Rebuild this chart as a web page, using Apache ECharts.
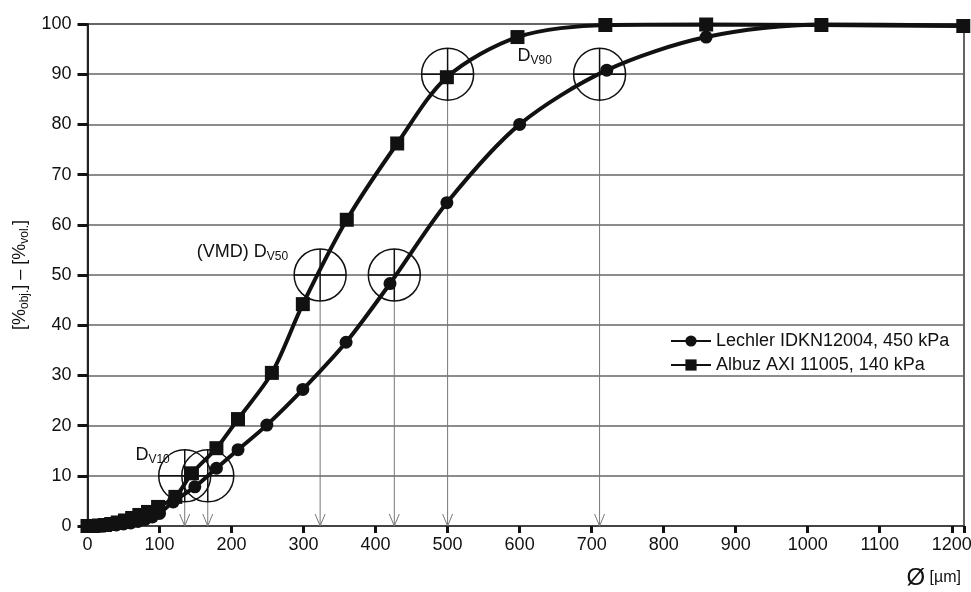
<!DOCTYPE html>
<html>
<head>
<meta charset="utf-8">
<script src="https://cdn.jsdelivr.net/npm/echarts@6/dist/echarts.min.js"></script>
<style>
  html, body { margin: 0; padding: 0; background: #fff; }
  #chart { width: 971px; height: 592px; }
</style>
</head>
<body>
<div id="chart"></div>
<script>
// drop size classes (µm) and cumulative volume (%)
const lechlerX = [0, 10, 20, 30, 40, 50, 60, 70, 80, 90, 100, 119, 149, 179, 209, 249, 299, 359, 420, 499, 600, 721, 859, 1019, 1216];
const lechlerY = [0, 0, 0, 0.1, 0.2, 0.4, 0.6, 0.9, 1.3, 1.8, 2.5, 4.8, 7.8, 11.5, 15.2, 20.1, 27.2, 36.6, 48.3, 64.4, 80.0, 90.8, 97.4, 99.9, 99.7];
const albuzX = [0, 8, 16, 24, 33, 42, 52, 62, 72, 84, 98, 122, 145, 179, 209, 256, 299, 360, 430, 499, 597, 719, 859, 1019, 1216];
const albuzY = [0, 0, 0.1, 0.2, 0.4, 0.7, 1.1, 1.6, 2.2, 2.8, 3.8, 5.8, 10.5, 15.5, 21.3, 30.5, 44.2, 61.0, 76.2, 89.4, 97.4, 99.8, 99.9, 99.8, 99.6];

// characteristic diameters Dv10 / Dv50 / Dv90
const dvLevels = [10, 50, 90];
const albuzDv = [135, 323, 500];
const lechlerDv = [167, 426, 711];
const dvLabels = ['{d|D}{s|V10}', '{d|(VMD) D}{s|V50}', '{d|D}{s|V90}'];

const xTicks = [0, 100, 200, 300, 400, 500, 600, 700, 800, 900, 1000, 1100, 1200];

const font = 'Liberation Sans, Arial, sans-serif';
const ink = '#111';

const chart = echarts.init(document.getElementById('chart'));

const zip = (xs, ys) => xs.map((x, i) => [x, ys[i]]);

const marks = [];
dvLevels.forEach((lvl, i) => {
  marks.push([albuzDv[i], lvl, i]);
  marks.push([lechlerDv[i], lvl, -1]);
});

// label offsets relative to the Albuz circle centre, in px
const labelOffset = [[-15, -21, 'right'], [-32, -23, 'right'], [70, -18, 'left']];

const renderMark = (params, api) => {
  const x = api.value(0);
  const y = api.value(1);
  const idx = api.value(2);
  const c = api.coord([x, y]);
  const base = api.coord([x, 0]);
  const r = 26;
  const children = [
    {
      type: 'line',
      shape: { x1: c[0], y1: c[1] + r, x2: c[0], y2: base[1] },
      style: { stroke: '#777', lineWidth: 1 }
    },
    {
      type: 'polyline',
      shape: { points: [[c[0] - 5, base[1] - 12], [c[0], base[1]], [c[0] + 5, base[1] - 12]] },
      style: { stroke: '#777', lineWidth: 1, fill: null }
    },
    {
      type: 'circle',
      shape: { cx: c[0], cy: c[1], r: r },
      style: { stroke: ink, lineWidth: 1.5, fill: null }
    },
    {
      type: 'line',
      shape: { x1: c[0] - r, y1: c[1], x2: c[0] + r, y2: c[1] },
      style: { stroke: ink, lineWidth: 1.5 }
    },
    {
      type: 'line',
      shape: { x1: c[0], y1: c[1] - r, x2: c[0], y2: c[1] + r },
      style: { stroke: ink, lineWidth: 1.5 }
    }
  ];
  if (idx >= 0) {
    const off = labelOffset[idx];
    children.push({
      type: 'text',
      x: c[0] + off[0],
      y: c[1] + off[1],
      style: {
        text: dvLabels[idx],
        align: off[2],
        verticalAlign: 'middle',
        fill: ink,
        rich: {
          d: { fontSize: 18, fontFamily: font, fill: ink },
          s: { fontSize: 12, fontFamily: font, fill: ink, verticalAlign: 'bottom', padding: [9, 0, 0, 0] }
        }
      }
    });
  }
  return { type: 'group', children: children };
};

const option = {
  animation: false,
  textStyle: { fontFamily: font },
  grid: {
    left: 87.5,
    right: 7,
    top: 24,
    bottom: 66,
    outerBoundsMode: 'none',
    show: true,
    borderColor: '#333',
    borderWidth: 1.5
  },
  legend: {
    orient: 'vertical',
    left: 666,
    top: 330,
    itemWidth: 40,
    itemHeight: 14,
    itemGap: 6,
    padding: [2, 6, 2, 4],
    textStyle: { fontSize: 18, color: ink, fontFamily: font },
    data: ['Lechler IDKN12004, 450 kPa', 'Albuz AXI 11005, 140 kPa']
  },
  xAxis: {
    type: 'value',
    min: 0,
    max: 1217,
    interval: 100,
    splitLine: { show: false },
    axisLine: { lineStyle: { color: '#444', width: 2 } },
    axisTick: { length: 7, lineStyle: { color: ink, width: 3 } },
    axisLabel: {
      margin: 10,
      fontSize: 18,
      color: ink,
      formatter: (v) => (xTicks.indexOf(v) >= 0 ? String(v) : '')
    }
  },
  yAxis: {
    type: 'value',
    min: 0,
    max: 100,
    interval: 10,
    name: '{n|[%}{s|obj.}{n|] – [%}{s|vol.}{n|]}',
    nameLocation: 'middle',
    nameGap: 57,
    nameTextStyle: {
      rich: {
        n: { fontSize: 18, color: ink, fontFamily: font },
        s: { fontSize: 12, color: ink, fontFamily: font, padding: [9, 0, 0, 0] }
      }
    },
    axisLine: { show: true, lineStyle: { color: '#222', width: 2 } },
    axisTick: { show: true, length: 10, lineStyle: { color: ink, width: 3 } },
    axisLabel: { margin: 16, fontSize: 18, color: ink },
    splitLine: { lineStyle: { color: '#666', width: 1.5 } }
  },
  graphic: [
    {
      type: 'text',
      right: 10,
      top: 566,
      style: {
        text: '{o|Ø} [µm]',
        fill: ink,
        fontSize: 16,
        fontFamily: font,
        rich: { o: { fontSize: 24, fontFamily: font, fill: ink } }
      }
    }
  ],
  series: [
    {
      type: 'custom',
      name: 'dv',
      renderItem: renderMark,
      data: marks,
      z: 3,
      silent: true
    },
    {
      name: 'Lechler IDKN12004, 450 kPa',
      type: 'line',
      smooth: 0.3,
      data: zip(lechlerX, lechlerY),
      symbol: 'circle',
      symbolSize: 13,
      lineStyle: { width: 4, color: ink },
      itemStyle: { color: ink },
      z: 4
    },
    {
      name: 'Albuz AXI 11005, 140 kPa',
      type: 'line',
      smooth: 0.3,
      data: zip(albuzX, albuzY),
      symbol: 'rect',
      symbolSize: 14,
      lineStyle: { width: 4, color: ink },
      itemStyle: { color: ink },
      z: 5
    }
  ]
};

chart.setOption(option);
</script>
</body>
</html>
